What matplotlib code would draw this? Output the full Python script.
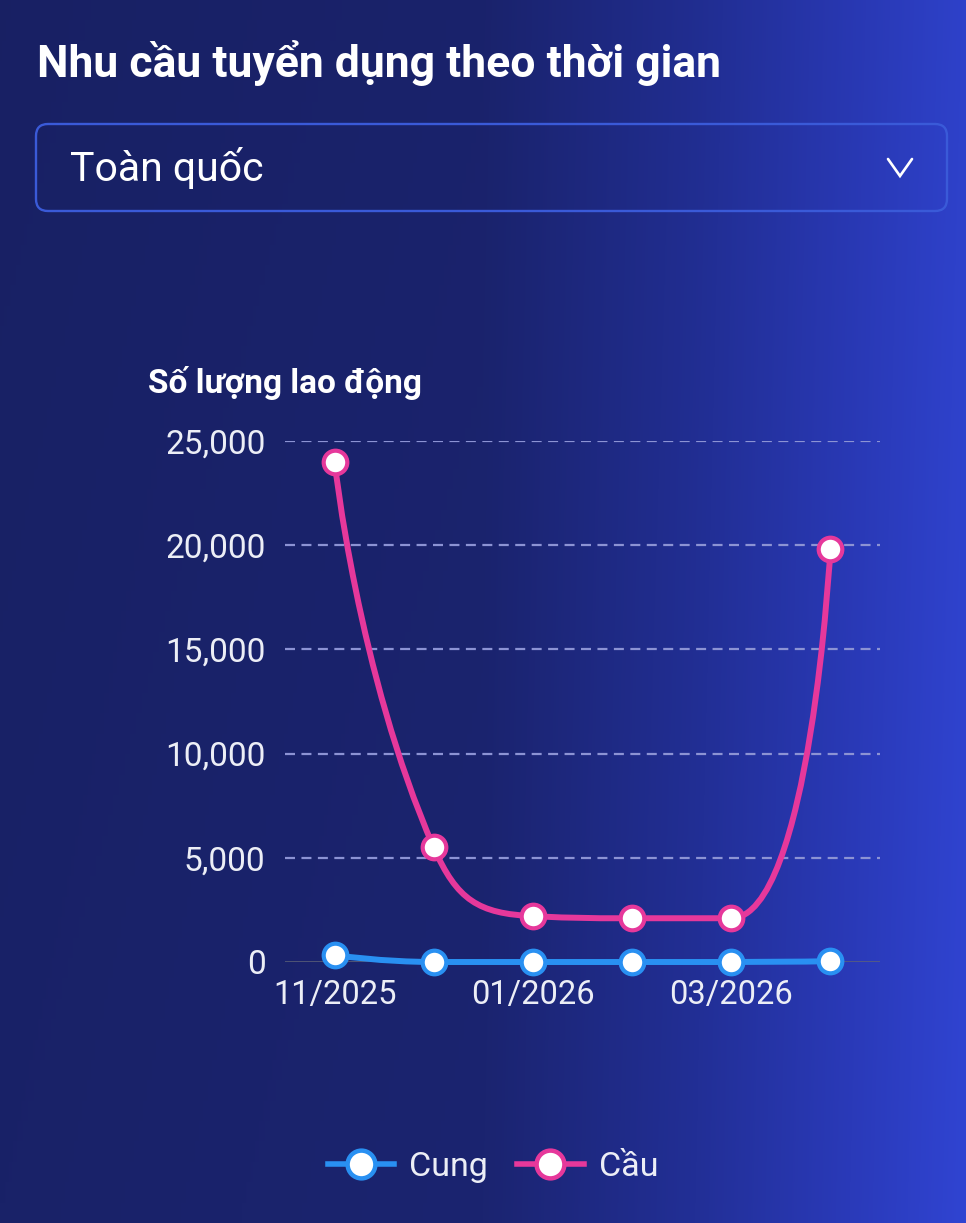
import numpy as np
import matplotlib
matplotlib.use('Agg')
import matplotlib.pyplot as plt
from matplotlib.path import Path
from matplotlib.patches import PathPatch, FancyBboxPatch
from matplotlib.lines import Line2D

plt.rcParams['font.family'] = ['Roboto', 'DejaVu Sans']

# dữ liệu
months = ['11/2025', '12/2025', '01/2026', '02/2026', '03/2026', '04/2026']
cung = [320, 0, 0, 0, 0, 40]
cau = [24000, 5500, 2200, 2100, 2100, 19800]
y_ticks = [0, 5000, 10000, 15000, 20000, 25000]
series_names = ['Cung', 'Cầu']

BLUE = '#2990f2'
PINK = '#e6389b'
TEXT = '#eceef6'

W, H = 966, 1223
fig = plt.figure(figsize=(W / 100, H / 100), dpi=100)

# nền: axes phủ toàn bộ, toạ độ = pixel
bg = fig.add_axes([0, 0, 1, 1])
bg.set_xlim(0, W)
bg.set_ylim(H, 0)
bg.axis('off')

gx = np.linspace(0, 1, W)
gy = np.linspace(0, 1, 60)
stops = [0.0, 0.5, 0.72, 0.88, 1.0]
r = np.interp(gx, stops, [25, 27, 34, 42, 48])
g = np.interp(gx, stops, [34, 36, 47, 58, 68])
b = np.interp(gx, stops, [104, 112, 150, 185, 210])
img = np.zeros((len(gy), W, 3))
shade = 0.96 + 0.04 * gy[:, None]
img[..., 0] = r[None, :] * shade
img[..., 1] = g[None, :] * shade
img[..., 2] = b[None, :] * shade
bg.imshow(img / 255.0, extent=[0, W, H, 0], aspect='auto', zorder=0)

# tiêu đề
bg.text(37, 77, 'Nhu cầu tuyển dụng theo thời gian', color='white',
        fontsize=32, fontweight='bold', va='baseline', ha='left', zorder=2)

# ô chọn khu vực
box = FancyBboxPatch((36, 124), 911, 87, boxstyle='round,pad=0,rounding_size=12',
                     fc='none', ec='#3a5ad8', lw=1.7, zorder=1)
bg.add_patch(box)
bg.text(70, 181, 'Toàn quốc', color='white', fontsize=29.5, va='baseline',
        ha='left', zorder=2)
bg.plot([888, 900, 912], [159, 176, 159], color='white', lw=1.9,
        solid_capstyle='round', solid_joinstyle='miter', zorder=2)

# nhãn trục y
bg.text(148, 393, 'Số lượng lao động', color='white', fontsize=24,
        fontweight='bold', va='baseline', ha='left', zorder=2)

# vùng biểu đồ
L, R, T, B = 285, 880, 441, 962
ax = fig.add_axes([L / W, 1 - B / H, (R - L) / W, (B - T) / H])
ax.set_facecolor('none')
x = np.arange(len(months))
ax.set_xlim(-0.5, len(months) - 0.5)
ax.set_ylim(0, 25000)
for s in ax.spines.values():
    s.set_visible(False)

for yt in y_ticks[1:]:
    ax.axhline(yt, color='#8c93d4', lw=1.6, ls=(0, (4.5, 2.9)), zorder=1)
ax.axhline(0, color='#5e6278', lw=1.8, zorder=1)

ax.set_yticks(y_ticks)
ax.set_yticklabels([f'{v:,}' for v in y_ticks])
ax.set_xticks(x[::2])
ax.set_xticklabels(months[::2])
ax.tick_params(axis='y', length=0, pad=14, labelsize=24, labelcolor=TEXT)
ax.tick_params(axis='x', length=0, pad=12, labelsize=23.5, labelcolor=TEXT)


def smooth_path(px, py, smooth=0.5):
    # đường cong mượt kiểu ECharts (tính trong toạ độ pixel)
    n = len(px)
    verts = [(px[0], py[0])]
    codes = [Path.MOVETO]
    cp0 = (px[0], py[0])
    for i in range(1, n):
        xx, yy = px[i], py[i]
        prx, pry = px[i - 1], py[i - 1]
        if i == n - 1:
            cp1 = (xx, yy)
            nxt = None
        else:
            nx, ny = px[i + 1], py[i + 1]
            vx, vy = nx - prx, ny - pry
            lp = np.hypot(xx - prx, yy - pry)
            ln = np.hypot(nx - xx, ny - yy)
            ratio = ln / (ln + lp)
            ncx = xx + vx * smooth * ratio
            ncy = yy + vy * smooth * ratio
            ncx = min(max(ncx, min(nx, xx)), max(nx, xx))
            ncy = min(max(ncy, min(ny, yy)), max(ny, yy))
            vx, vy = ncx - xx, ncy - yy
            c1x = xx - vx * lp / ln
            c1y = yy - vy * lp / ln
            c1x = min(max(c1x, min(prx, xx)), max(prx, xx))
            c1y = min(max(c1y, min(pry, yy)), max(pry, yy))
            vx, vy = xx - c1x, yy - c1y
            nxt = (xx + vx * ln / lp, yy + vy * ln / lp)
            cp1 = (c1x, c1y)
        verts += [cp0, cp1, (xx, yy)]
        codes += [Path.CURVE4] * 3
        cp0 = nxt
    return verts, codes


for vals, color in [(cung, BLUE), (cau, PINK)]:
    disp = ax.transData.transform(np.column_stack([x, vals]))
    verts, codes = smooth_path(disp[:, 0], disp[:, 1])
    data_verts = ax.transData.inverted().transform(np.array(verts))
    patch = PathPatch(Path(data_verts, codes), fill=False, ec=color, lw=4.3,
                      capstyle='round', joinstyle='round', clip_on=False, zorder=3)
    ax.add_patch(patch)
    ax.plot(x, vals, linestyle='none', marker='o', ms=17, mfc='white',
            mec=color, mew=3, clip_on=False, zorder=4)

handles = [Line2D([], [], color=c, lw=4, marker='o', ms=20, mfc='white', mec=c, mew=3.2)
           for c in (BLUE, PINK)]
leg = fig.legend(handles, series_names, loc='center', bbox_to_anchor=(493 / W, 1 - 1167 / H),
                 ncol=2, frameon=False, fontsize=24.5, labelcolor=TEXT,
                 handlelength=1.95, handletextpad=0.45, columnspacing=0.85)

fig.savefig('out.png', dpi=100)
